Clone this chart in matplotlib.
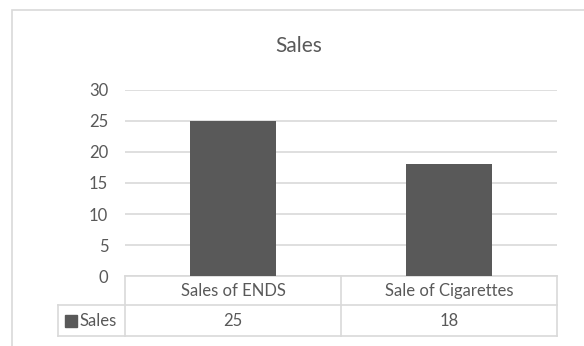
import matplotlib.pyplot as plt
import matplotlib.transforms as mtransforms
from matplotlib.patches import Rectangle

# chart data
categories = ['Sales of ENDS', 'Sale of Cigarettes']
series_name = 'Sales'
sales = [25, 18]
y_ticks = [0, 5, 10, 15, 20, 25, 30]

bar_color = '#595959'
grid_color = '#d9d9d9'
text_color = '#595959'

plt.rcParams['font.family'] = ['Lato', 'DejaVu Sans']

fig = plt.figure(figsize=(5.84, 3.46), dpi=100)
ax = fig.add_axes([0.214, 0.2023, 0.740, 0.5376])

x = list(range(len(categories)))
ax.bar(x, sales, width=0.4, color=bar_color, zorder=3)

ax.set_xlim(-0.5, len(categories) - 0.5)
ax.set_ylim(0, 30)
ax.set_yticks(y_ticks)
ax.set_xticks([])
ax.yaxis.grid(True, color=grid_color, linewidth=1.2, zorder=0)
ax.tick_params(axis='y', length=0, pad=12, labelsize=12, labelcolor=text_color)
for s in ax.spines.values():
    s.set_visible(False)

# data table under the plot area (x in data units, y in axes fraction)
trans = mtransforms.blended_transform_factory(ax.transData, ax.transAxes)
row1 = -0.156
row2 = -0.3226
left = -0.5
right = len(categories) - 0.5
label_left = -0.81
line_kw = dict(color=grid_color, linewidth=1.2, transform=trans, clip_on=False)

ax.plot([left, right], [0, 0], **line_kw)
ax.plot([label_left, right], [row1, row1], **line_kw)
ax.plot([label_left, right], [row2, row2], **line_kw)
ax.plot([label_left, label_left], [row1, row2], **line_kw)
for b in range(len(categories) + 1):
    ax.plot([b - 0.5, b - 0.5], [0, row2], **line_kw)

for i, (cat, val) in enumerate(zip(categories, sales)):
    ax.text(i, row1 / 2, cat, ha='center', va='center', fontsize=12,
            color=text_color, transform=trans)
    ax.text(i, (row1 + row2) / 2, str(val), ha='center', va='center',
            fontsize=12, color=text_color, transform=trans)

# legend key in the row header
ax.plot([label_left + 0.06], [(row1 + row2) / 2], marker='s', markersize=8.6,
        color=bar_color, linestyle='none', transform=trans, clip_on=False)
ax.text(label_left + 0.1, (row1 + row2) / 2, series_name, ha='left',
        va='center', fontsize=12, color=text_color, transform=trans)

fig.text(0.512, 0.868, 'Sales', ha='center', va='center',
         fontsize=15, color=text_color)

# chart area border
fig.patches.append(Rectangle((12 / 584, -0.1), 1.2, 0.971 + 0.1,
                             transform=fig.transFigure, fill=False,
                             edgecolor=grid_color, linewidth=1.2))

fig.savefig('out.png', dpi=100)
